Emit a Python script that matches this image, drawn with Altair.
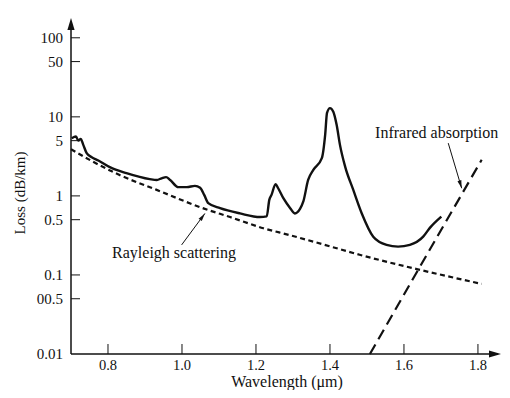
import altair as alt
import pandas as pd

# ---- data ----
loss_wl = [0.702, 0.7135, 0.7197, 0.7262, 0.7332, 0.7424, 0.756, 0.774, 0.805, 0.85,
           0.913, 0.932, 0.945, 0.957, 0.968, 0.99, 1.013, 1.035, 1.049, 1.06,
           1.071, 1.103, 1.157, 1.211, 1.229, 1.236, 1.242, 1.253, 1.260, 1.274,
           1.292, 1.305, 1.319, 1.328, 1.341, 1.355, 1.378, 1.387, 1.392, 1.400,
           1.409, 1.418, 1.427, 1.441, 1.463, 1.486, 1.517, 1.553, 1.584, 1.616,
           1.652, 1.670, 1.701]
loss_db = [5.37, 5.63, 5.01, 5.27, 4.42, 3.47, 3.09, 2.80, 2.31, 1.94,
           1.63, 1.59, 1.67, 1.73, 1.59, 1.29, 1.29, 1.34, 1.27, 1.03,
           0.81, 0.70, 0.60, 0.54, 0.55, 0.89, 1.03, 1.41, 1.25, 0.935,
           0.705, 0.60, 0.685, 0.85, 1.59, 2.13, 3.00, 5.92, 11.2, 12.9,
           11.6, 7.92, 4.42, 2.35, 1.19, 0.60, 0.305, 0.24, 0.228, 0.24,
           0.305, 0.394, 0.547]

rayleigh_wl = [0.70, 0.76, 0.83, 0.93, 1.06, 1.13, 1.22, 1.29, 1.40, 1.48, 1.64, 1.81]
rayleigh_db = [3.9, 2.7, 1.85, 1.2, 0.69, 0.54, 0.39, 0.32, 0.23, 0.18, 0.117, 0.077]

infrared_wl = [1.508, 1.64, 1.81]
infrared_db = [0.01, 0.12, 2.86]

x_ticks = [0.8, 1.0, 1.2, 1.4, 1.6, 1.8]
x_tick_text = ["0.8", "1.0", "1.2", "1.4", "1.6", "1.8"]
y_ticks = [0.01, 0.05, 0.1, 0.5, 1, 5, 10, 50, 100]
y_tick_text = ["0.01", "00.5", "0.1", "0.5", "1", "5", "10", "50", "100"]

# annotations: label text and arrow (from -> to) in data units
ann_text = ["Rayleigh scattering", "Infrared absorption"]
ann_text_wl = [0.811, 1.522]
ann_text_db = [0.19, 6.27]
arrow_from_wl = [0.999, 1.7197]
arrow_from_db = [0.24, 4.65]
arrow_to_wl = [1.062, 1.756]
arrow_to_db = [0.60, 1.25]
arrow_angle = [36.3, 163.4]

# ---- layout ----
W, H = 431, 336
FONT = "Liberation Serif"
INK = "#111111"

xs = alt.Scale(domain=[0.7, 1.865], nice=False, zero=False)
ys = alt.Scale(type="log", domain=[0.01, 178], nice=False)


def X(f):
    return alt.X(f, type="quantitative", scale=xs, axis=None)


def Y(f):
    return alt.Y(f, type="quantitative", scale=ys, axis=None)


df_loss = pd.DataFrame({"wl": loss_wl, "db": loss_db})
df_ray = pd.DataFrame({"wl": rayleigh_wl, "db": rayleigh_db})
df_ir = pd.DataFrame({"wl": infrared_wl, "db": infrared_db})
df_xt = pd.DataFrame({"wl": x_ticks, "lab": x_tick_text})
df_yt = pd.DataFrame({"db": y_ticks, "lab": y_tick_text})
df_yt_marks = df_yt[df_yt["db"] > 0.01]
df_one = pd.DataFrame({"k": [0]})
df_ann = pd.DataFrame({"text": ann_text, "wl": ann_text_wl, "db": ann_text_db})
df_arr = pd.DataFrame({"wl": arrow_from_wl, "db": arrow_from_db,
                       "wl2": arrow_to_wl, "db2": arrow_to_db, "ang": arrow_angle})

loss = alt.Chart(df_loss).mark_line(color=INK, strokeWidth=2.4, interpolate="monotone").encode(
    x=X("wl"), y=Y("db"))
ray = alt.Chart(df_ray).mark_line(color=INK, strokeWidth=2.2, strokeDash=[5, 3.5],
                                  interpolate="monotone").encode(x=X("wl"), y=Y("db"))
ir = alt.Chart(df_ir).mark_line(color=INK, strokeWidth=2.2, strokeDash=[11, 6]).encode(
    x=X("wl"), y=Y("db"))

x_line = alt.Chart(df_one).mark_rule(color=INK, strokeWidth=1.5).encode(
    x=alt.value(0), x2=alt.value(W - 4), y=alt.value(H))
y_line = alt.Chart(df_one).mark_rule(color=INK, strokeWidth=1.5).encode(
    x=alt.value(0), y=alt.value(4), y2=alt.value(H))

head_big = "M0,0L0.6,2L-0.6,2Z"
head_small = "M0,0L0.5,2L-0.5,2Z"
x_head = alt.Chart(df_one).mark_point(shape=head_big, filled=True, size=144, color=INK,
                                      opacity=1, angle=90).encode(
    x=alt.value(W - 1), y=alt.value(H))
y_head = alt.Chart(df_one).mark_point(shape=head_big, filled=True, size=144, color=INK,
                                      opacity=1, angle=0).encode(
    x=alt.value(0), y=alt.value(0))

x_tick_marks = alt.Chart(df_xt).mark_rule(color=INK, strokeWidth=1).encode(
    x=X("wl"), y=alt.value(H), y2=alt.value(H - 10))
y_tick_marks = alt.Chart(df_yt_marks).mark_rule(color=INK, strokeWidth=1).encode(
    y=Y("db"), x=alt.value(0), x2=alt.value(9))

x_labels = alt.Chart(df_xt).mark_text(font=FONT, fontSize=14.5, align="center",
                                      baseline="middle", color=INK).encode(
    x=X("wl"), y=alt.value(H + 11.5), text="lab:N")
y_labels = alt.Chart(df_yt).mark_text(font=FONT, fontSize=15, align="right",
                                      baseline="middle", color=INK).encode(
    y=Y("db"), x=alt.value(-8), text="lab:N")

ann = alt.Chart(df_ann).mark_text(font=FONT, fontSize=16, align="left", baseline="middle",
                                  color=INK).encode(x=X("wl"), y=Y("db"), text="text:N")
shafts = alt.Chart(df_arr).mark_rule(color=INK, strokeWidth=1).encode(
    x=X("wl"), y=Y("db"), x2="wl2:Q", y2="db2:Q")
heads = alt.Chart(df_arr).mark_point(shape=head_small, filled=True, size=64, color=INK,
                                     opacity=1).encode(
    x=X("wl2"), y=Y("db2"), angle=alt.Angle("ang:Q", scale=None))

y_title = alt.Chart(df_one).mark_text(font=FONT, fontSize=15, angle=270, align="center",
                                      baseline="middle", color=INK).encode(
    x=alt.value(-51), y=alt.value(175), text=alt.value("Loss (dB/km)"))
x_title = alt.Chart(df_one).mark_text(font=FONT, fontSize=16, align="center",
                                      baseline="alphabetic", color=INK).encode(
    x=alt.value(216), y=alt.value(369), text=alt.value("Wavelength (μm)"))

chart = alt.layer(
    loss, ray, ir, x_tick_marks, y_tick_marks, x_line, y_line, x_head, y_head,
    x_labels, y_labels, shafts, heads, ann, y_title, x_title,
).properties(
    width=W, height=H,
    autosize=alt.AutoSizeParams(type="none"),
    padding={"left": 63, "top": 10, "right": 0, "bottom": 36},
    background="white",
).configure_view(strokeOpacity=0)

chart.save("out.html", embed_options={"renderer": "svg", "actions": False})
